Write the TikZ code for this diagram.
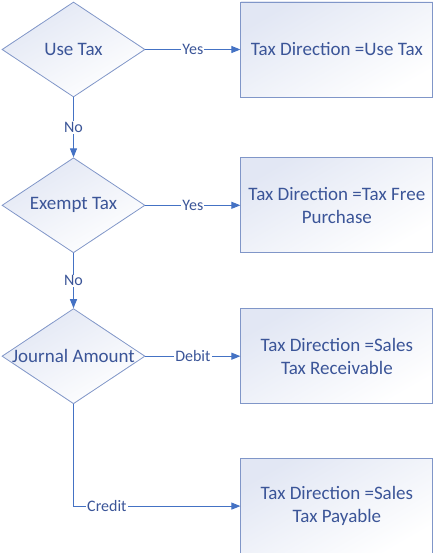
\documentclass[tikz,border=0pt]{standalone}
\usepackage{fontspec}
\setmainfont{Carlito}
\usetikzlibrary{positioning,arrows.meta,shapes.geometric}
\definecolor{linecol}{RGB}{68,114,196}
\definecolor{textcol}{RGB}{59,85,152}
\definecolor{edgecol}{RGB}{128,150,200}
\definecolor{shadecol}{RGB}{226,231,244}

\begin{document}
\begin{tikzpicture}[
    x=1pt, y=1pt,
    decision/.style={diamond, draw=edgecol, line width=0.8pt, aspect=1.5, minimum width=143pt, minimum height=95pt, inner sep=0pt, top color=shadecol, bottom color=white, shading angle=30, text=textcol, font=\fontsize{19}{23}\selectfont},
    outcome/.style={rectangle, draw=edgecol, line width=0.9pt, minimum width=192pt, minimum height=95pt, align=center, top color=shadecol, bottom color=white, shading angle=30, text=textcol, font=\fontsize{19}{23}\selectfont},
    arrow/.style={-{Triangle[length=9pt,width=7pt]}, draw=linecol, line width=1pt},
    branch/.style={fill=white, text=textcol, inner sep=1pt, font=\fontsize{16}{19}\selectfont}
]
    \useasboundingbox (0,0) rectangle (439,-553);

    \node[decision] (usetax) at (73.5,-49.5) {Use Tax};
    \node[decision, below=60pt of usetax] (exempt) {Exempt Tax};
    \node[decision, below=55pt of exempt] (journal) {Journal Amount};

    \node[outcome, right=95pt of usetax] (dirusetax) {Tax Direction =Use Tax};
    \node[outcome, right=95pt of exempt] (dirfree) {Tax Direction =Tax Free\\Purchase};
    \node[outcome, right=95pt of journal] (dirrecv) {Tax Direction =Sales\\Tax Receivable};
    \node[outcome, below=54pt of dirrecv] (dirpay) {Tax Direction =Sales\\Tax Payable};

    \draw[arrow] (usetax) -- node[branch] {Yes} (dirusetax);
    \draw[arrow] (usetax) -- node[branch] {No} (exempt);
    \draw[arrow] (exempt) -- node[branch] {Yes} (dirfree);
    \draw[arrow] (exempt) -- node[branch] {No} (journal);
    \draw[arrow] (journal) -- node[branch] {Debit} (dirrecv);
    \draw[arrow] (journal) |- node[branch, pos=0.6] {Credit} (dirpay);
\end{tikzpicture}
\end{document}
